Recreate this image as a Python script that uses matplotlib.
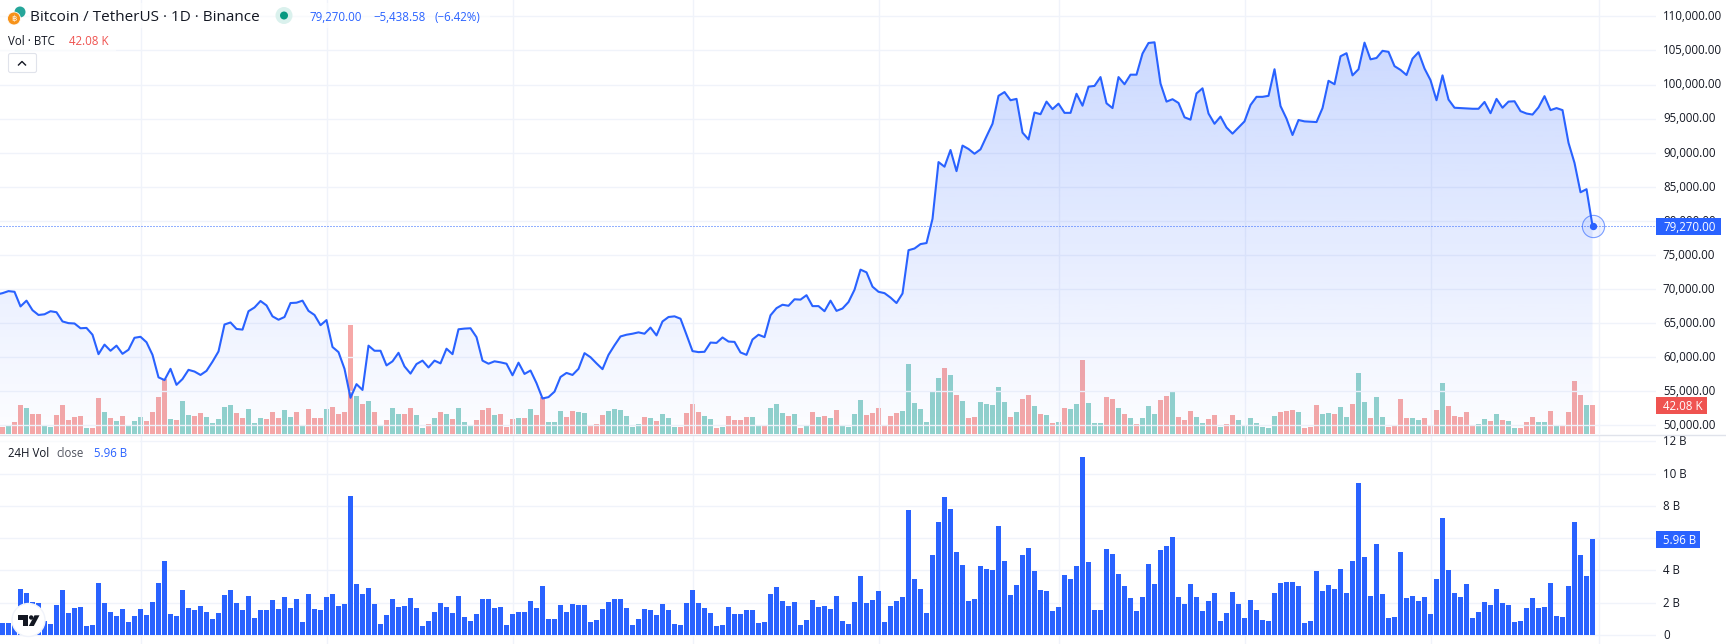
"""BTC/USDT daily area chart with volume overlay and 24H volume pane."""
import numpy as np
import matplotlib
matplotlib.use('Agg')  # Use non-GUI backend
import matplotlib.pyplot as plt
from matplotlib.colors import to_rgb
from matplotlib.patches import Circle, FancyBboxPatch, Polygon, Rectangle
from matplotlib.transforms import ScaledTranslation

plt.rcParams['font.family'] = ['Open Sans', 'DejaVu Sans']

# Daily close, first value is the day just left of the visible bars
close = [
    69200,
    69400, 69700, 69600, 67450, 68300, 66900, 66200, 66300, 66750, 66600,
    65250, 65000, 64950, 64250, 64300, 63300, 60450, 61850, 60950, 61700,
    60500, 61100, 62850, 63000, 62200, 60350, 57050, 56650, 58300, 55950,
    56800, 58150, 57900, 57400, 58000, 59350, 60850, 64800, 65100, 64150,
    64050, 66750, 67300, 68250, 67600, 66000, 65500, 65900, 67950, 68000,
    68300, 66800, 66200, 64700, 65450, 61500, 60750, 58300, 54050, 56050,
    55200, 61700, 60950, 60950, 58800, 59400, 60650, 58650, 57600, 59000,
    59500, 58500, 59500, 59100, 61250, 60450, 64100, 64200, 64250, 62950,
    59500, 59050, 59400, 59250, 59050, 57350, 59200, 57550, 58050, 56200,
    53950, 54150, 54950, 57100, 57700, 57400,
    58300, 60600, 60000, 59100, 58250, 60350, 61750, 63050, 63300, 63450,
    63650, 63450, 64350, 63200, 65250, 65900, 66000, 65650, 63300, 60900,
    60750, 60800, 62150, 62100, 62900, 62300, 62250, 60700, 60350, 62600,
    63300, 62950, 66150, 67200, 67700, 67550, 68500, 68450, 69100, 67500,
    67500, 66750, 68300, 66800, 67150, 68100, 69900, 72850, 72450, 70350,
    69600, 69400, 68750, 67950, 69350, 75700, 75950, 76600, 76750, 80300,
    88630, 87950, 90400, 87300, 91050, 90550, 89850, 90500, 92400, 94250,
    98350, 98900, 97700, 97900, 92950, 91950, 95900, 95650, 97500, 96400,
    97200, 95850, 95850, 98650, 96900, 99700, 99800, 101100, 97250, 96550,
    101100, 100050, 101450, 101450, 104550, 106100, 106200, 100150, 97500, 97850,
    97300, 95200, 94850, 98700, 99450, 95750, 94250, 95300, 93700, 92800,
    93700, 94600, 97000, 98200, 98200, 98350, 102250, 96850, 95000, 92600,
    94800, 94600, 94550, 94500, 96550, 100550, 100050, 104150, 104600, 101350,
    102250, 106150, 103700, 103900, 104950, 104800, 102700, 102150, 101400, 103800,
    104750, 102350, 100650, 97700, 101350, 97800, 96600, 96550, 96500, 96450,
    96450, 97450, 95800, 97900, 96600, 97500, 97550, 96100, 95750, 95600,
    96650, 98300, 96250, 96550, 96250, 91450, 88500, 84200, 84650, 79270,
]

# Volume in thousand BTC
vol_btc = [
    10.2, 11.6, 17.4, 42.1, 37.7, 29.0, 29.0, 13.1, 10.2, 27.6,
    42.1, 20.3, 24.7, 26.1, 8.7, 8.7, 52.2, 31.9, 23.2, 18.9,
    26.1, 13.1, 18.9, 24.7, 18.9, 31.9, 53.7, 79.8, 21.8, 20.3,
    47.9, 27.6, 26.1, 30.5, 24.7, 16.0, 21.8, 39.2, 42.1, 30.5,
    23.2, 36.3, 16.0, 23.2, 21.8, 31.9, 23.2, 34.8, 24.7, 31.9,
    11.6, 36.3, 23.2, 23.2, 36.3, 39.2, 29.0, 31.9, 158.2, 55.1,
    43.5, 47.9, 31.9, 11.6, 20.3, 37.7, 29.0, 29.0, 37.7, 27.6,
    8.7, 14.5, 23.2, 31.9, 29.0, 21.8, 37.7, 17.4, 13.1, 20.3,
    34.8, 37.7, 27.6, 29.0, 10.2, 21.8, 23.2, 23.2, 36.3, 27.6,
    53.7, 17.4, 17.4, 33.4, 24.7, 33.4,
    31.9, 30.5, 13.1, 14.5, 27.6, 33.4, 36.3, 34.8, 26.1, 10.2,
    14.5, 24.7, 23.2, 18.9, 29.0, 23.2, 10.2, 10.2, 30.5, 43.5,
    31.9, 26.1, 21.8, 8.7, 10.2, 26.1, 20.3, 20.3, 24.7, 24.7,
    11.6, 13.1, 37.7, 43.5, 30.5, 26.1, 29.0, 8.7, 13.1, 31.9,
    24.7, 26.1, 23.2, 34.8, 13.1, 10.2, 29.0, 49.3, 27.6, 30.5,
    37.7, 11.6, 26.1, 30.5, 33.4, 101.6, 45.0, 36.3, 17.4, 60.9,
    81.3, 95.8, 85.6, 56.6, 47.9, 23.2, 24.7, 46.4, 43.5, 42.1,
    68.2, 46.4, 24.7, 31.9, 50.8, 56.6, 40.6, 29.0, 27.6, 16.0,
    17.4, 37.7, 36.3, 43.5, 107.4, 45.0, 16.0, 16.0, 53.7, 50.8,
    37.7, 29.0, 23.2, 14.5, 23.2, 40.6,
    29.0, 49.3, 55.1, 62.4, 24.7, 20.3, 33.4, 24.7, 16.0, 21.8,
    27.6, 10.2, 14.5, 27.6, 20.3, 11.6, 23.2, 16.0, 10.2, 8.7,
    26.1, 31.9, 33.4, 34.8, 31.9, 8.7, 10.2, 42.1, 29.0, 30.5,
    29.0, 39.2, 24.7, 43.5, 88.5, 46.4, 23.2, 53.7, 24.7, 10.2,
    11.6, 50.8, 23.2, 23.2, 20.3, 23.2, 13.1, 34.8, 74.0, 40.6,
    26.1, 24.7, 31.9, 11.6, 14.5, 21.8, 18.9, 29.0, 20.3, 18.9,
    8.7, 8.7, 17.4, 24.7, 17.4, 17.4, 33.4, 13.1, 11.6, 31.9,
    76.9, 56.6, 42.08, 42.08,
]

# G = up day, R = down day
vol_dir = (
    'RGRRGRRGGR' 'RRRRGRRGRG' 'RGGGRRRRGR' 'GGRRGGGGGR' 'RGGGRRRGGR'
    'GRRRGRRRRG' 'RGRGRGGRRG' 'GRGRGRGGGR' 'RRGRRRGRGR' 'RGGGRR'
    'GGRRRGGGGG' 'GRGRGGGRRR' 'RGGRGRRRRG' 'GRGGGRGRGR' 'GRGRGGGGRR'
    'RRRRGGGGGG' 'GRGRGRRGGG' 'GGRGRRGRGR' 'GRGGRGGGRR' 'GRGRGG'
    'GRRGRRRGGR' 'RGRRGGGGGG' 'GRRRGRRRGG' 'RGGRGGRGGR' 'RRRGGRRRGR'
    'RRRRGGRGRG' 'GRRRGGRGRR' 'RRGR'
)

# 24H volume in billions
vol_24h = [
    0.72, 0.72, 1.12, 2.83, 2.58, 2.02, 1.96, 0.85, 0.66, 1.84,
    2.77, 1.34, 1.65, 1.71, 0.54, 0.60, 3.20, 1.96, 1.40, 1.16,
    1.59, 0.79, 1.16, 1.59, 1.22, 2.02, 3.20, 4.57, 1.28, 1.16,
    2.77, 1.65, 1.53, 1.78, 1.40, 0.97, 1.34, 2.46, 2.77, 1.96,
    1.53, 2.40, 1.03, 1.53, 1.53, 2.15, 1.59, 2.33, 1.65, 2.21,
    0.79, 2.52, 1.59, 1.53, 2.33, 2.52, 1.78, 1.90, 8.60, 3.14,
    2.52, 2.89, 1.90, 0.66, 1.22, 2.21, 1.71, 1.78, 2.27, 1.65,
    0.54, 0.85, 1.40, 1.96, 1.71, 1.34, 2.40, 1.10, 0.85, 1.28,
    2.21, 2.21, 1.65, 1.71, 0.60, 1.28, 1.40, 1.40, 2.09, 1.65,
    3.02, 0.97, 0.97, 1.84, 1.40, 1.90,
    1.84, 1.84, 0.79, 0.91, 1.59, 2.02, 2.21, 2.21, 1.65, 0.60,
    0.97, 1.59, 1.53, 1.22, 1.90, 1.53, 0.66, 0.60, 1.96, 2.77,
    1.96, 1.65, 1.34, 0.54, 0.60, 1.71, 1.28, 1.28, 1.53, 1.53,
    0.72, 0.79, 2.52, 2.95, 2.09, 1.78, 2.02, 0.60, 0.91, 2.15,
    1.71, 1.78, 1.59, 2.40, 0.85, 0.66, 2.02, 3.64, 1.96, 2.15,
    2.71, 0.79, 1.78, 2.09, 2.33, 7.73, 3.45, 2.83, 1.34, 4.94,
    6.98, 8.53, 7.79, 5.12, 4.32, 2.09, 2.21, 4.26, 4.07, 4.01,
    6.74, 4.57, 2.46, 3.08, 4.94, 5.37, 3.95, 2.77, 2.71, 1.47,
    1.71, 3.70, 3.45, 4.26, 11.01, 4.50, 1.53, 1.53, 5.31, 5.00,
    3.76, 3.02, 2.27, 1.47, 2.33, 4.38,
    3.14, 5.25, 5.50, 6.05, 2.33, 1.90, 3.14, 2.33, 1.47, 2.09,
    2.58, 0.85, 1.34, 2.64, 1.90, 1.03, 2.15, 1.53, 0.91, 0.85,
    2.58, 3.20, 3.26, 3.26, 3.02, 0.72, 0.85, 3.95, 2.71, 3.08,
    2.83, 4.07, 2.58, 4.57, 9.40, 4.81, 2.40, 5.62, 2.52, 1.03,
    1.10, 5.12, 2.27, 2.40, 2.09, 2.33, 1.28, 3.45, 7.23, 4.01,
    2.58, 2.33, 3.14, 1.03, 1.40, 2.02, 1.84, 2.83, 1.96, 1.84,
    0.79, 0.85, 1.65, 2.27, 1.65, 1.71, 3.20, 1.16, 1.10, 3.02,
    6.98, 4.94, 3.64, 5.96,
]

price_ticks = [50000, 55000, 60000, 65000, 70000, 75000, 80000, 85000,
               90000, 95000, 100000, 105000, 110000]
vol_ticks = [0, 2, 4, 6, 8, 10, 12]
# 6 B sits under the last value badge in the chart
vol_tick_labels = ['0', '2 B', '4 B', '', '8 B', '10 B', '12 B']
month_starts = [23, 54, 85, 115, 146, 176, 207, 238, 266]

BLUE = '#2962FF'
RED = '#EF5350'
GREEN = '#26A69A'
TEXT = '#131722'
GRID = '#F0F3FA'

WIDTH, HEIGHT = 1726, 644
PANE_W = 1656
MAIN_BOTTOM = 434
LOWER_TOP = 436
XLIM = (-0.4167, 275.58)
LABEL_SIZE = 8.3


def pane_axes(top, bottom, **kwargs):
    """Axes placed by pixel rows of the picture."""
    return fig.add_axes([0, 1 - bottom / HEIGHT, PANE_W / WIDTH, (bottom - top) / HEIGHT], **kwargs)


def style_pane(ax, ticks, labels):
    ax.set_xlim(*XLIM)
    ax.set_xticks(month_starts)
    ax.set_yticks(ticks)
    ax.set_yticklabels(labels, fontsize=LABEL_SIZE, color=TEXT)
    ax.yaxis.tick_right()
    ax.tick_params(axis='both', length=0, pad=5)
    ax.tick_params(axis='x', labelbottom=False)
    ax.grid(True, color=GRID, linewidth=1.0)
    ax.set_axisbelow(True)
    for spine in ax.spines.values():
        spine.set_visible(False)
    # Labels sit a pixel above their grid line
    lift = ScaledTranslation(0, 1.2 / 100, fig.dpi_scale_trans)
    for label in ax.get_yticklabels():
        label.set_transform(label.get_transform() + lift)


fig = plt.figure(figsize=(WIDTH / 100, HEIGHT / 100), dpi=100, facecolor='white')

days = np.arange(len(vol_btc))
close_days = np.arange(-1, len(vol_btc))
close_arr = np.array(close)

# Volume overlay sits under the price line
ax_vol = pane_axes(0, MAIN_BOTTOM)
ax_vol.set_zorder(1)
vol_colors = [GREEN if d == 'G' else RED for d in vol_dir]
ax_vol.bar(days, vol_btc, width=5 / 6, color=vol_colors, alpha=0.5, linewidth=0)
ax_vol.set_xlim(*XLIM)
ax_vol.set_ylim(0, 629.7)
ax_vol.axis('off')

# Price pane
ax = pane_axes(0, MAIN_BOTTOM)
ax.set_zorder(2)
ax.patch.set_alpha(0)
price_min, price_max = 48738, 112406
style_pane(ax, price_ticks, [f'{t:,.2f}' for t in price_ticks])

# Area fill, gradient clipped to the region under the line
gradient = np.zeros((256, 1, 4))
gradient[:, :, :3] = to_rgb(BLUE)
gradient[:, 0, 3] = np.linspace(0.24, 0.01, 256)
poly = ax.fill_between(close_days, close_arr, price_min, color='none', linewidth=0)
img = ax.imshow(gradient, extent=[close_days[0], close_days[-1], price_min, close_arr.max()],
                aspect='auto', origin='upper', zorder=1.5)
img.set_clip_path(poly.get_paths()[0], transform=ax.transData)

ax.plot(close_days, close_arr, color=BLUE, linewidth=1.5, zorder=3, solid_joinstyle='round')
ax.axhline(close[-1], color=BLUE, linewidth=0.72, linestyle=(0, (1, 2)), zorder=2)

# Last price marker
ax.plot(close_days[-1], close[-1], 'o', markersize=16, markerfacecolor=(*to_rgb(BLUE), 0.08),
        markeredgecolor=(*to_rgb(BLUE), 0.6), markeredgewidth=0.8, zorder=4, clip_on=False)
ax.plot(close_days[-1], close[-1], 'o', markersize=4.3, color=BLUE, zorder=5)
ax.set_xlim(*XLIM)
ax.set_ylim(price_min, price_max)

# 24H volume pane
ax_low = pane_axes(LOWER_TOP, HEIGHT)
style_pane(ax_low, vol_ticks, vol_tick_labels)
ax_low.bar(days, vol_24h, width=5 / 6, color=BLUE, linewidth=0, zorder=2)
ax_low.set_ylim(-0.558, 12.34)

# Overlay in picture pixels for legends, badges and logos
ui = fig.add_axes([0, 0, 1, 1], zorder=5)
ui.set_xlim(0, WIDTH)
ui.set_ylim(HEIGHT, 0)
ui.axis('off')

# Pane separator
ui.plot([0, WIDTH], [435, 435], color='#E0E3EB', linewidth=1.0)


def pixel_y(axes, value):
    """Row in the picture of a data value on the given axes."""
    return HEIGHT - axes.transData.transform((0, value))[1]


def badge(axes, value, label, color, width):
    y = pixel_y(axes, value)
    ui.add_patch(Rectangle((PANE_W, y - 8), width, 17, color=color, linewidth=0))
    ui.text(PANE_W + 7, y, label, color='white', fontsize=LABEL_SIZE, fontweight='medium',
            va='center_baseline', ha='left')


badge(ax, close[-1], '79,270.00', BLUE, 65)
badge(ax_vol, vol_btc[-1], '42.08 K', RED, 51)
badge(ax_low, vol_24h[-1], '5.96 B', BLUE, 44)

# Legend backdrops
ui.add_patch(Rectangle((0, 3), 490, 25, color='white', alpha=0.6, linewidth=0))
ui.add_patch(Rectangle((0, 29), 116, 22, color='white', alpha=0.6, linewidth=0))
ui.add_patch(Rectangle((0, 440), 140, 22, color='white', alpha=0.6, linewidth=0))

# Symbol icon
ui.add_patch(Circle((20, 12), 5.5, color=GREEN, linewidth=0))
ui.add_patch(Circle((14, 18.5), 6.5, color='#F7931A', ec='white', linewidth=0.6))
ui.text(14, 18.7, '฿', color='white', fontsize=6, ha='center', va='center', family=['DejaVu Sans'])

ui.text(30, 15.5, 'Bitcoin / TetherUS · 1D · Binance', color=TEXT, fontsize=10.98, va='center_baseline')

# Market status dot
ui.add_patch(Circle((284, 15.5), 8.5, color='#DAF1ED', linewidth=0))
ui.add_patch(Circle((284, 15.5), 4, color='#089981', linewidth=0))

ui.text(309, 15.5, '79,270.00', color=BLUE, fontsize=LABEL_SIZE, va='center_baseline')
ui.text(373, 15.5, '−5,438.58', color=BLUE, fontsize=LABEL_SIZE, va='center_baseline')
ui.text(434.5, 15.5, '(−6.42%)', color=BLUE, fontsize=LABEL_SIZE, va='center_baseline')

ui.text(8, 39.5, 'Vol · BTC', color=TEXT, fontsize=LABEL_SIZE, va='center_baseline')
ui.text(69, 39.5, '42.08 K', color=RED, fontsize=LABEL_SIZE, va='center_baseline')

# Collapse button
ui.add_patch(FancyBboxPatch((8.5, 53.5), 28, 19, boxstyle='round,pad=0,rounding_size=2',
                            fc='white', ec='#E0E3EB', linewidth=0.8))
ui.plot([18.5, 22, 25.5], [65, 61.5, 65], color=TEXT, linewidth=1.0)

ui.text(8, 451.5, '24H Vol', color=TEXT, fontsize=LABEL_SIZE, va='center_baseline')
ui.text(56, 451.5, 'close', color='#50535E', fontsize=LABEL_SIZE, va='center_baseline')
ui.text(93.5, 451.5, '5.96 B', color=BLUE, fontsize=LABEL_SIZE, va='center_baseline')

# TradingView logo
ui.add_patch(Circle((28.5, 620), 16.5, fc='white', ec='#F0F3FA', linewidth=1.0))
ui.add_patch(Polygon([(17.6, 615.3), (28, 615.3), (28, 626), (22.5, 626), (22.5, 619.5), (17.6, 619.5)],
                     color='#131722', linewidth=0))
ui.add_patch(Circle((31.2, 617.5), 2.2, color='#131722', linewidth=0))
ui.add_patch(Polygon([(34.5, 615.3), (39.5, 615.3), (33.8, 626), (28.8, 626)], color='#131722', linewidth=0))

fig.savefig('out.png', dpi=100)
plt.close(fig)
